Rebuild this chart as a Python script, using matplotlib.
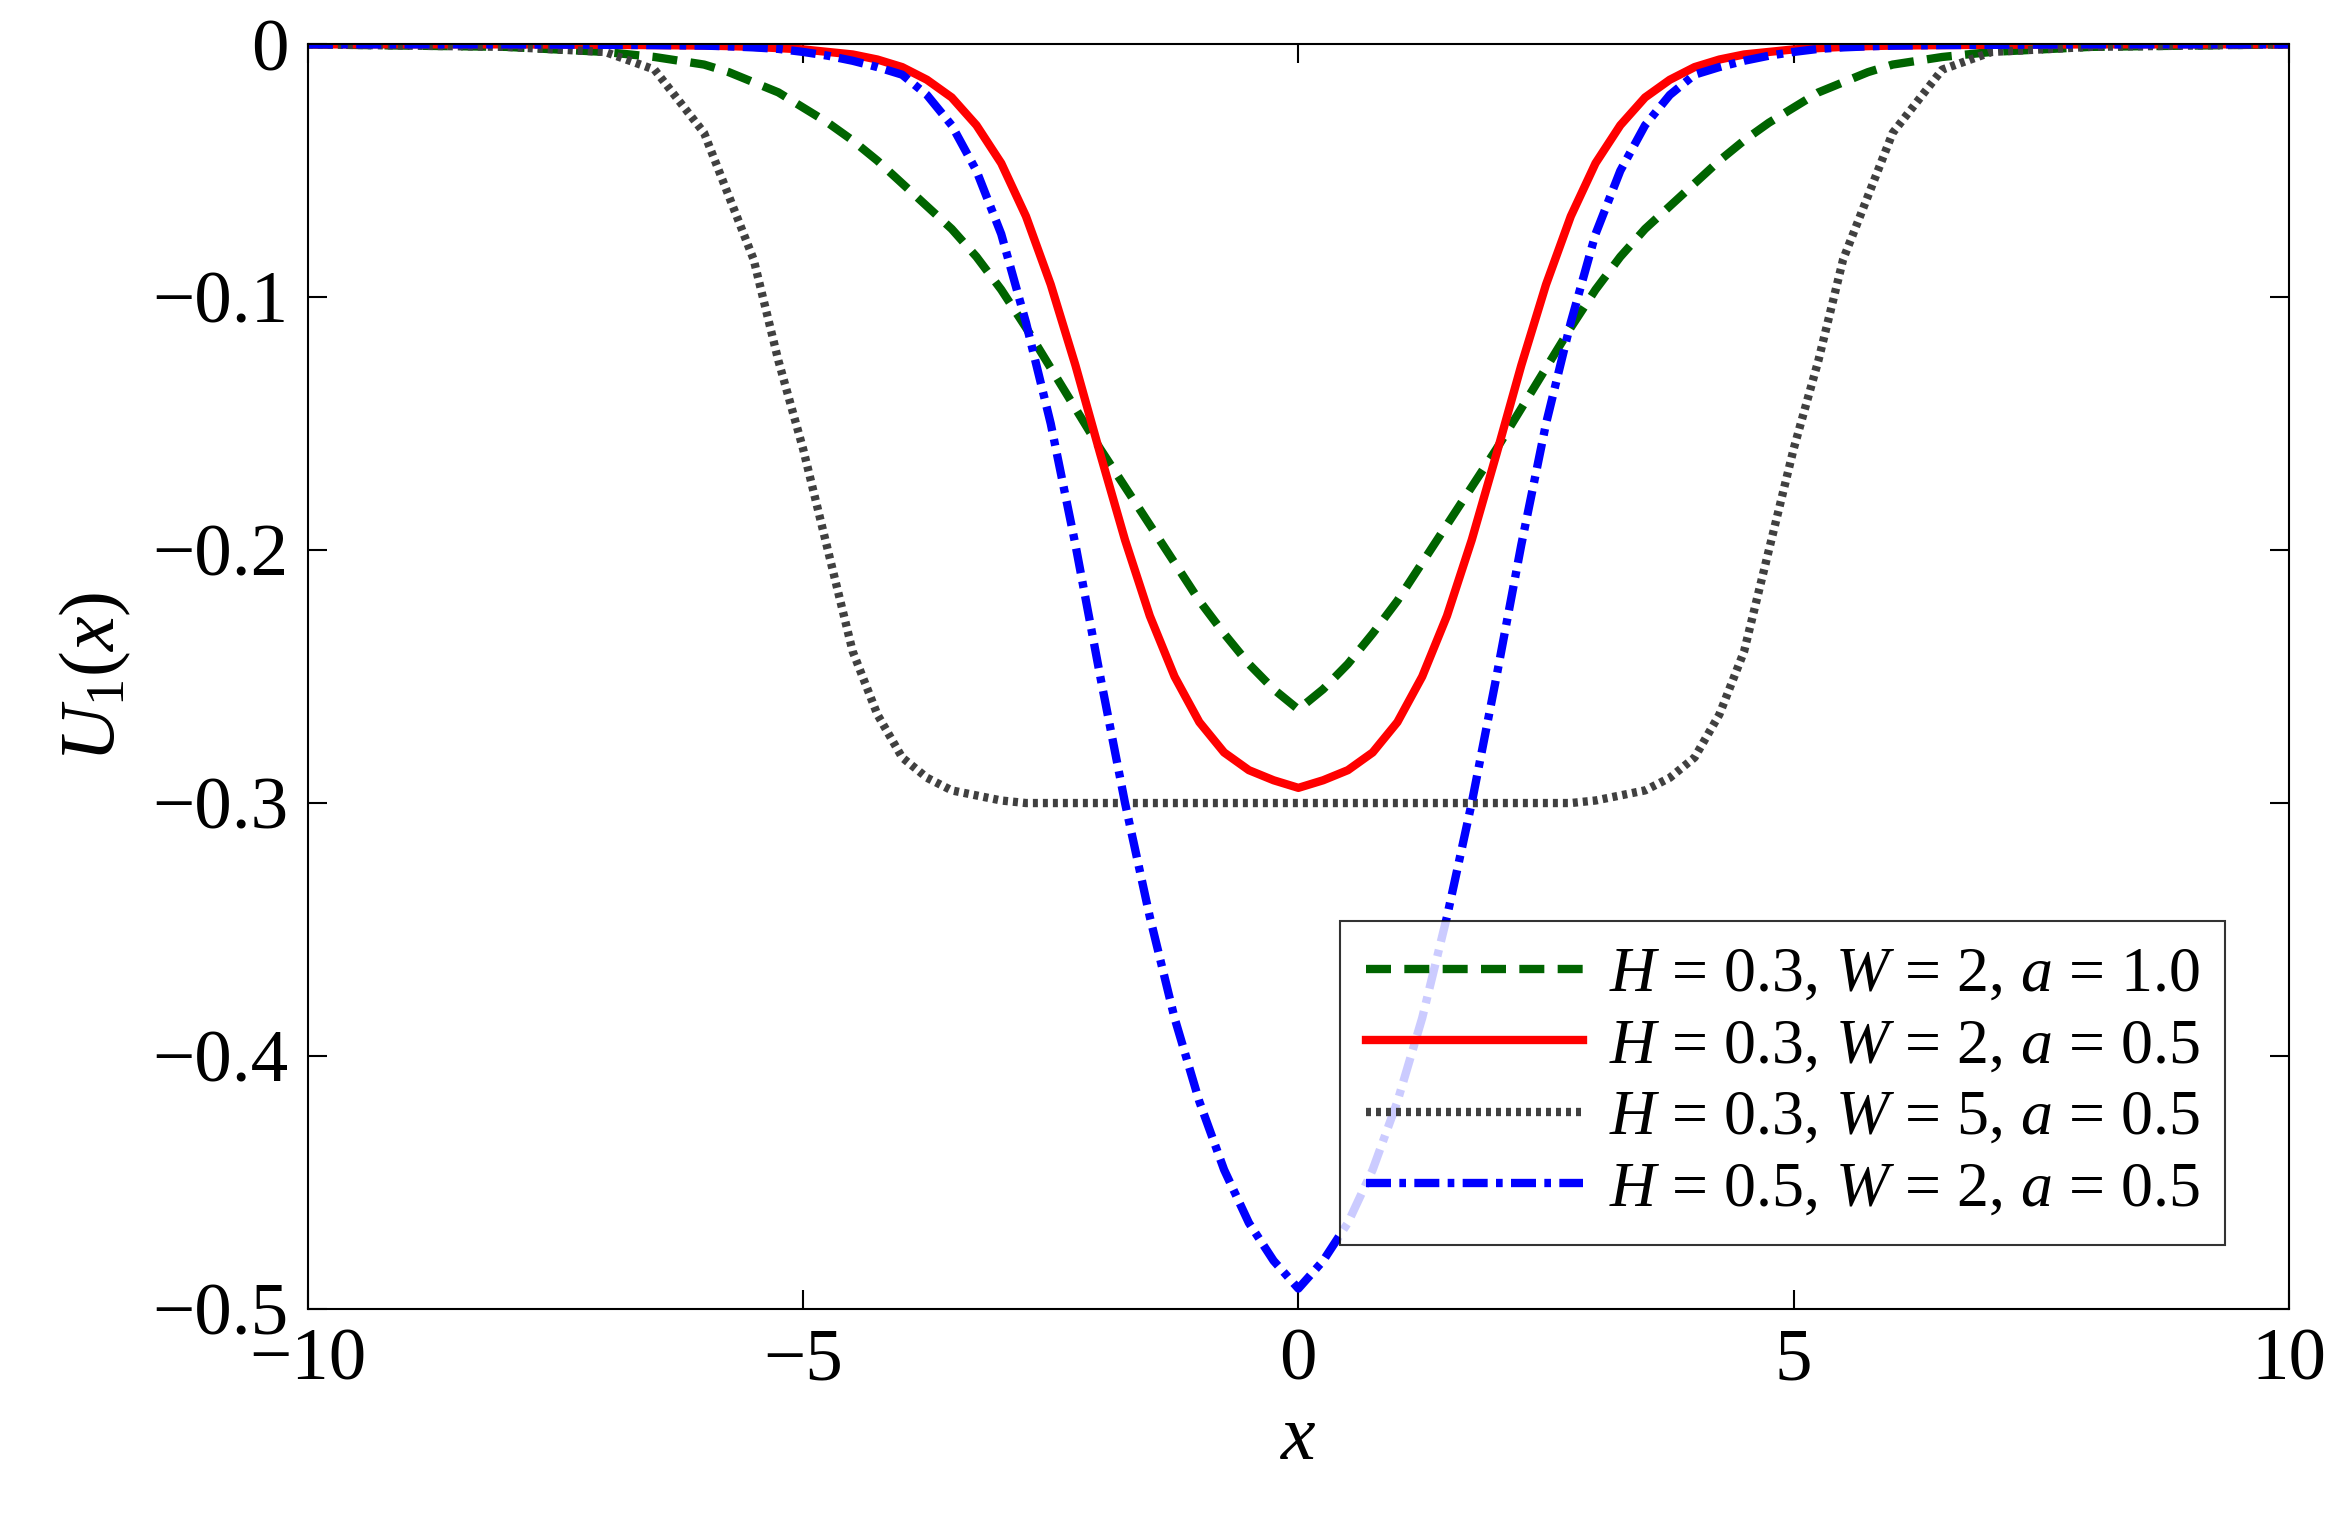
import matplotlib
matplotlib.use("Agg")
import matplotlib.pyplot as plt

# left half (x <= 0); curves are symmetric about x = 0
x_left = [-10, -8, -7, -6.5, -6, -5.75, -5.5, -5.25, -5, -4.75, -4.5, -4.25, -4, -3.75, -3.5, -3.25,
          -3, -2.75, -2.5, -2.25, -2, -1.75, -1.5, -1.25, -1, -0.75, -0.5, -0.25, 0]
green_left = [0, -0.001, -0.003, -0.005, -0.008, -0.011, -0.015, -0.019, -0.025, -0.031, -0.038, -0.046, -0.055, -0.064, -0.073, -0.084,
              -0.097, -0.112, -0.128, -0.144, -0.16, -0.175, -0.19, -0.205, -0.22, -0.233, -0.245, -0.255, -0.263]
red_left = [0, 0, -0.0002, -0.0003, -0.0005, -0.0007, -0.001, -0.0015, -0.002, -0.003, -0.004, -0.006, -0.009, -0.014, -0.021, -0.032,
            -0.047, -0.068, -0.095, -0.127, -0.162, -0.196, -0.226, -0.25, -0.268, -0.28, -0.287, -0.291, -0.294]
gray_left = [0, -0.001, -0.003, -0.01, -0.035, -0.06, -0.085, -0.125, -0.16, -0.2, -0.24, -0.265, -0.282, -0.29, -0.295, -0.297,
             -0.299, -0.3, -0.3, -0.3, -0.3, -0.3, -0.3, -0.3, -0.3, -0.3, -0.3, -0.3, -0.3]
blue_left = [0, 0, -0.0002, -0.0003, -0.0005, -0.0008, -0.0012, -0.0018, -0.003, -0.0045, -0.0065, -0.009, -0.012, -0.02, -0.032, -0.05,
             -0.075, -0.11, -0.15, -0.198, -0.25, -0.3, -0.345, -0.385, -0.418, -0.445, -0.466, -0.481, -0.492]

def mirror_x(v):
    return v + [-t for t in v[-2::-1]]

def mirror_y(v):
    return v + v[-2::-1]

x = mirror_x(x_left)
green, red, gray, blue = (mirror_y(v) for v in (green_left, red_left, gray_left, blue_left))

plt.rcParams["font.family"] = "Liberation Serif"
plt.rcParams["mathtext.fontset"] = "custom"
plt.rcParams["mathtext.it"] = "Liberation Serif:italic"
plt.rcParams["mathtext.rm"] = "Liberation Serif"
fig = plt.figure(figsize=(23.5, 15.29), dpi=100)
ax = fig.add_axes([0.131, 0.144, 0.843, 0.827])
ax.plot(x, green, color="#006400", ls=(0, (3, 1.6)), lw=6, label=r"$H$ = 0.3, $W$ = 2, $a$ = 1.0")
ax.plot(x, red, color="#ff0000", ls="-", lw=6, label=r"$H$ = 0.3, $W$ = 2, $a$ = 0.5")
ax.plot(x, gray, color="#404040", ls=(0, (0.6, 0.6)), lw=6, label=r"$H$ = 0.3, $W$ = 5, $a$ = 0.5")
ax.plot(x, blue, color="#0000ff", ls=(0, (3, 1, 0.8, 1)), lw=6, label=r"$H$ = 0.5, $W$ = 2, $a$ = 0.5")
ax.set_xlim(-10, 10)
ax.set_ylim(-0.5, 0)
ax.set_xticks([-10, -5, 0, 5, 10])
ax.set_xticklabels(["\u221210", "\u22125", "0", "5", "10"])
ax.set_yticks([-0.5, -0.4, -0.3, -0.2, -0.1, 0])
ax.set_yticklabels(["\u22120.5", "\u22120.4", "\u22120.3", "\u22120.2", "\u22120.1", "0"])
ax.tick_params(direction="in", labelsize=54, length=14, width=1.5, top=True, right=True, pad=14)
for s in ax.spines.values():
    s.set_linewidth(1.5)
ax.set_xlabel(r"$x$", fontsize=56, labelpad=6)
ax.set_ylabel(r"$U_1(x)$", fontsize=56, labelpad=14)
leg = ax.legend(loc="lower right", fontsize=46, frameon=True, fancybox=False, edgecolor="black",
                handlelength=3.4, borderaxespad=1.0, labelspacing=0.2, handletextpad=0.4)
leg.get_frame().set_linewidth(1.5)
fig.savefig("out.png", dpi=100, facecolor="white")
